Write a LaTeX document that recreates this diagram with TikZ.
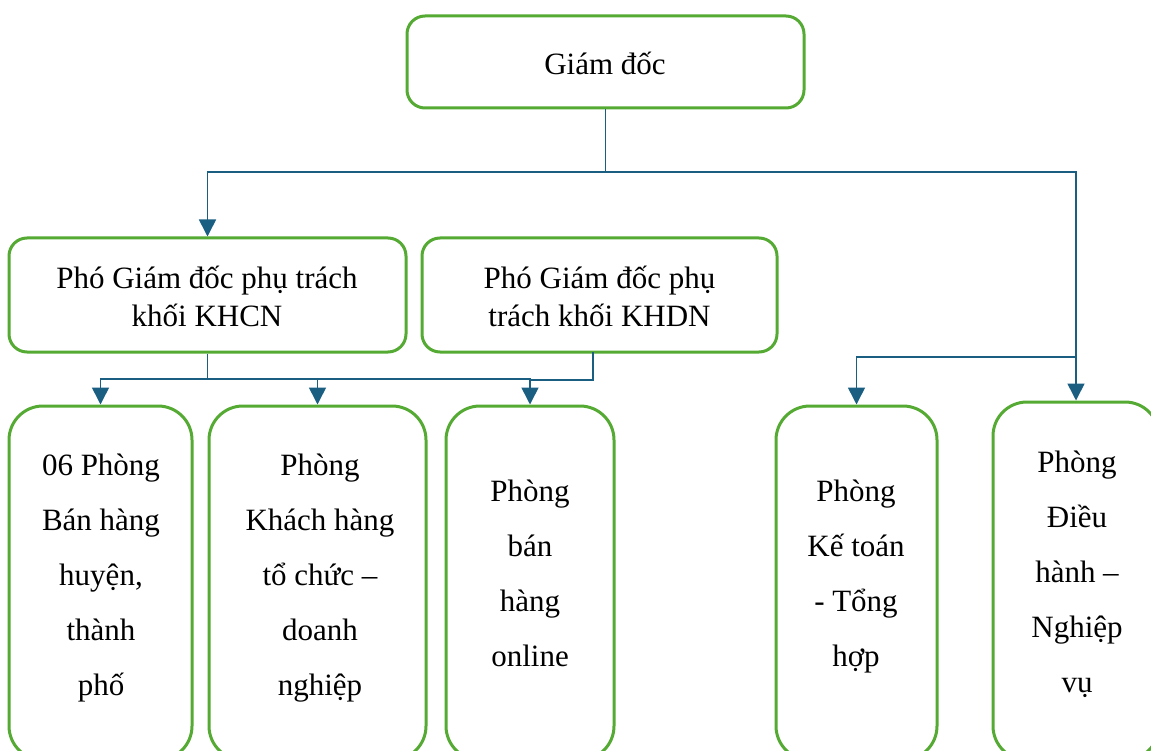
\documentclass[tikz,border=0pt]{standalone}
\usepackage{fontspec}
\setmainfont{Liberation Serif}
\usetikzlibrary{arrows.meta}
\definecolor{boxgreen}{RGB}{84,170,50}
\definecolor{linkblue}{RGB}{26,94,130}
\begin{document}
\begin{tikzpicture}[x=1pt,y=-1pt,
  topbox/.style={draw=boxgreen,line width=3pt,rounded corners=18pt,inner sep=0pt,minimum height=114pt},
  lowbox/.style={draw=boxgreen,line width=3pt,rounded corners=34pt,inner sep=0pt,minimum height=354pt},
  txt/.style={align=center,font=\fontsize{31}{38}\selectfont,inner sep=0pt},
  ltxt/.style={align=center,font=\fontsize{31}{55}\selectfont,inner sep=0pt},
  conn/.style={draw=linkblue,line width=1.6pt},
  arr/.style={conn,-{Triangle[width=17pt,length=17pt]}}
]
\useasboundingbox (0,0) rectangle (1151,751);
% boxes
\node[topbox,minimum width=397pt,minimum height=92pt] (gd) at (605.5,62) {};
\node[topbox,minimum width=397pt] (khcn) at (207.5,295) {};
\node[topbox,minimum width=355pt] (khdn) at (599.5,295) {};
\node[lowbox,minimum width=183pt] (p1) at (100.5,583) {};
\node[lowbox,minimum width=217pt] (p2) at (317.5,583) {};
\node[lowbox,minimum width=168pt] (p3) at (530,583) {};
\node[lowbox,minimum width=161pt] (kt) at (856.5,583) {};
\node[lowbox,minimum width=166pt,minimum height=358pt] (dh) at (1076,581) {};
% texts
\node[txt] (t0) at (605,63) {Giám đốc};
\node[txt] (t1) at (207,296) {Phó Giám đốc phụ trách\\khối KHCN};
\node[txt] (t2) at (599.5,296) {Phó Giám đốc phụ\\trách khối KHDN};
\node[ltxt] (t3) at (101,578) {06 Phòng\\Bán hàng\\huyện,\\thành\\phố};
\node[ltxt] (t4) at (320,578) {Phòng\\Khách hàng\\tổ chức –\\doanh\\nghiệp};
\node[ltxt] (t5) at (530,573.5) {Phòng\\bán\\hàng\\online};
\node[ltxt] (t6) at (856,576.5) {Phòng\\Kế toán\\- Tổng\\hợp};
\node[ltxt] (t7) at (1077,574) {Phòng\\Điều\\hành –\\Nghiệp\\vụ};
% junctions
\coordinate (jt) at (605.5,172);
\coordinate (jr) at (1076,357);
\coordinate (jl) at (207.5,379);
\coordinate (kd) at (593,352);
\coordinate (jd) at (593,380);
\coordinate (jp) at (530,380);
% connectors
\draw[conn] (gd.south) -- (jt);
\draw[arr] (jt) -| (khcn.north);
\draw[arr] (jt) -| (dh.north);
\draw[arr] (jr) -| (kt.north);
\draw[conn] (khcn.south) -- (jl);
\draw[arr] (jl) -| (p1.north);
\draw[arr] (jl) -| (p2.north);
\draw[arr] (jl) -| (p3.north);
\draw[conn] (kd) -- (jd) -- (jp);
\end{tikzpicture}
\end{document}
